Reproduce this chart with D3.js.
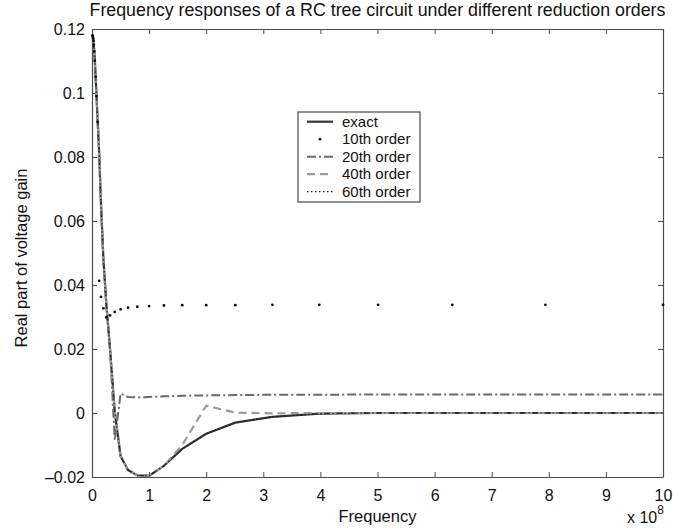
<!DOCTYPE html>
<html>
<head>
<meta charset="utf-8">
<script src="https://cdn.jsdelivr.net/npm/d3@7"></script>
<style>
  html, body { margin: 0; padding: 0; background: #fff; }
  svg { display: block; }
  text { font-family: "Liberation Sans", Arial, Helvetica, sans-serif; fill: #111; }
</style>
</head>
<body>
<svg id="chart" width="692" height="531"></svg>
<script>
// ---- data (frequency in units of 1e8 Hz) ----
const freq = [0.01, 0.0126, 0.0158, 0.02, 0.0251, 0.0316, 0.0398, 0.0501, 0.0631, 0.0794,
              0.1, 0.126, 0.158, 0.2, 0.251, 0.316, 0.398, 0.501, 0.631, 0.794,
              1, 1.26, 1.58, 2, 2.51, 3.16, 3.98, 5.01, 6.31, 7.94, 10];

const exact = [0.1180, 0.1178, 0.1175, 0.1170, 0.1163, 0.1150, 0.1130, 0.1100, 0.1050, 0.0990,
               0.0910, 0.0810, 0.0650, 0.0480, 0.0340, 0.0200, 0.0005, -0.0135, -0.0178, -0.0195,
               -0.0196, -0.0165, -0.0112, -0.0065, -0.0030, -0.0012, -0.0002, 0.0000, 0.0000, 0.0000, 0.0000];

const order10 = [0.1180, 0.1178, 0.1175, 0.1170, 0.1163, 0.1150, 0.1130, 0.1100, 0.1050, 0.0990,
                 0.0910, 0.0413, 0.0363, 0.0327, 0.0299, 0.0305, 0.0316, 0.0324, 0.0329, 0.0332,
                 0.0334, 0.0336, 0.0337, 0.0337, 0.0337, 0.0338, 0.0338, 0.0338, 0.0338, 0.0338, 0.0338];

const order20 = [0.1180, 0.1178, 0.1175, 0.1170, 0.1163, 0.1150, 0.1130, 0.1100, 0.1050, 0.0990,
                 0.0910, 0.0810, 0.0650, 0.0480, 0.0340, 0.0200, -0.0085, 0.0061, 0.0050, 0.0049,
                 0.0050, 0.0052, 0.0054, 0.0055, 0.0056, 0.0057, 0.0057, 0.0058, 0.0058, 0.0058, 0.0058];

const order40 = [0.1180, 0.1178, 0.1175, 0.1170, 0.1163, 0.1150, 0.1130, 0.1100, 0.1050, 0.0990,
                 0.0910, 0.0810, 0.0650, 0.0480, 0.0340, 0.0200, 0.0005, -0.0135, -0.0178, -0.0195,
                 -0.0196, -0.0165, -0.0100, 0.0023, 0.0001, -0.0001, 0.0000, 0.0000, 0.0000, 0.0000, 0.0000];

const order60 = [0.1180, 0.1178, 0.1175, 0.1170, 0.1163, 0.1150, 0.1130, 0.1100, 0.1050, 0.0990,
                 0.0910, 0.0810, 0.0650, 0.0480, 0.0340, 0.0200, 0.0005, -0.0135, -0.0178, -0.0195,
                 -0.0196, -0.0165, -0.0112, -0.0065, -0.0030, -0.0012, -0.0002, 0.0000, 0.0000, 0.0000, 0.0000];

const xTicks = [0, 1, 2, 3, 4, 5, 6, 7, 8, 9, 10];
const yTicks = [-0.02, 0, 0.02, 0.04, 0.06, 0.08, 0.1, 0.12];
const yTickLabels = ["\u20130.02", "0", "0.02", "0.04", "0.06", "0.08", "0.1", "0.12"];
const legendLabels = ["exact", "10th order", "20th order", "40th order", "60th order"];

const titleText = "Frequency responses of a RC tree circuit under different reduction orders";
const xLabel = "Frequency";
const yLabel = "Real part of voltage gain";

// ---- layout ----
const svg = d3.select("#chart");
const L = 92, R = 663, T = 29, B = 477;
const x = d3.scaleLinear().domain([0, 10]).range([L, R]);
const y = d3.scaleLinear().domain([-0.02, 0.12]).range([B, T]);
const axisColor = "#4a4a4a";

svg.append("defs").append("clipPath").attr("id", "plotclip")
  .append("rect").attr("x", L).attr("y", T - 2).attr("width", R - L).attr("height", B - T + 4);

// axes (inside ticks, box style)
const gx = svg.append("g").attr("transform", `translate(0,${B})`)
  .call(d3.axisBottom(x).tickValues(xTicks).tickFormat(d3.format("d")).tickSizeInner(-5).tickSizeOuter(0).tickPadding(10));
const gxt = svg.append("g").attr("transform", `translate(0,${T})`)
  .call(d3.axisTop(x).tickValues(xTicks).tickFormat("").tickSizeInner(-5).tickSizeOuter(0));
const gy = svg.append("g").attr("transform", `translate(${L},0)`)
  .call(d3.axisLeft(y).tickValues(yTicks).tickFormat((d, i) => yTickLabels[i]).tickSizeInner(-5).tickSizeOuter(0).tickPadding(7));
const gyr = svg.append("g").attr("transform", `translate(${R},0)`)
  .call(d3.axisRight(y).tickValues(yTicks).tickFormat("").tickSizeInner(-5).tickSizeOuter(0));

[gx, gxt, gy, gyr].forEach(g => {
  g.selectAll("path.domain").attr("stroke", axisColor).attr("stroke-width", 1.2);
  g.selectAll(".tick line").attr("stroke", axisColor).attr("stroke-width", 1);
  g.selectAll(".tick text").style("font-family", '"Liberation Sans", Arial, sans-serif')
    .style("font-size", "16px").attr("fill", "#111");
});
gx.selectAll(".tick text").attr("dy", "0.9em");

// series
const line = (vals) => d3.line().x((d, i) => x(freq[i])).y(d => y(d))(vals);
const plot = svg.append("g").attr("clip-path", "url(#plotclip)");

plot.append("path").attr("d", line(exact)).attr("fill", "none")
  .attr("stroke", "#333").attr("stroke-width", 2.2).attr("stroke-linejoin", "round");
plot.append("path").attr("d", line(order20)).attr("fill", "none")
  .attr("stroke", "#6a6a6a").attr("stroke-width", 2).attr("stroke-dasharray", "9,3,2,3");
plot.append("path").attr("d", line(order40)).attr("fill", "none")
  .attr("stroke", "#9a9a9a").attr("stroke-width", 2.2).attr("stroke-dasharray", "8,5");
plot.append("path").attr("d", line(order60)).attr("fill", "none")
  .attr("stroke", "#222").attr("stroke-width", 1.2).attr("stroke-dasharray", "1.5,2.5");

svg.append("g").selectAll("circle").data(order10).join("circle")
  .attr("cx", (d, i) => x(freq[i])).attr("cy", d => y(d)).attr("r", 1.4).attr("fill", "#111");

// title and labels
svg.append("text").attr("x", (L + R) / 2).attr("y", 16).attr("text-anchor", "middle")
  .style("font-size", "17.8px").text(titleText);
svg.append("text").attr("x", (L + R) / 2).attr("y", 522).attr("text-anchor", "middle")
  .style("font-size", "16.5px").text(xLabel);
svg.append("text").attr("transform", `translate(27,258) rotate(-90)`).attr("text-anchor", "middle")
  .style("font-size", "16.5px").text(yLabel);
const ex = svg.append("text").attr("x", 627).attr("y", 523).style("font-size", "16px");
ex.append("tspan").text("x 10");
ex.append("tspan").attr("dy", -9).style("font-size", "12px").text("8");

// legend
const lg = svg.append("g");
lg.append("rect").attr("x", 298).attr("y", 112).attr("width", 122).attr("height", 90)
  .attr("fill", "#fff").attr("stroke", axisColor).attr("stroke-width", 1.2);
const rowY = i => 121.7 + i * 17.5;
const styles = [
  {stroke: "#333", w: 2.2, dash: null},
  null,
  {stroke: "#6a6a6a", w: 2, dash: "9,3,2,3"},
  {stroke: "#9a9a9a", w: 2.2, dash: "8,5"},
  {stroke: "#222", w: 1.2, dash: "1.5,2.5"}
];
legendLabels.forEach((lab, i) => {
  const yy = rowY(i);
  if (styles[i]) {
    const s = styles[i];
    const ln = lg.append("line").attr("x1", 307).attr("x2", 333).attr("y1", yy).attr("y2", yy)
      .attr("stroke", s.stroke).attr("stroke-width", s.w);
    if (s.dash) ln.attr("stroke-dasharray", s.dash);
  } else {
    lg.append("circle").attr("cx", 320).attr("cy", yy).attr("r", 1.4).attr("fill", "#111");
  }
  lg.append("text").attr("x", 342).attr("y", yy).attr("dy", "0.35em").style("font-size", "15px").text(lab);
});
</script>
</body>
</html>
